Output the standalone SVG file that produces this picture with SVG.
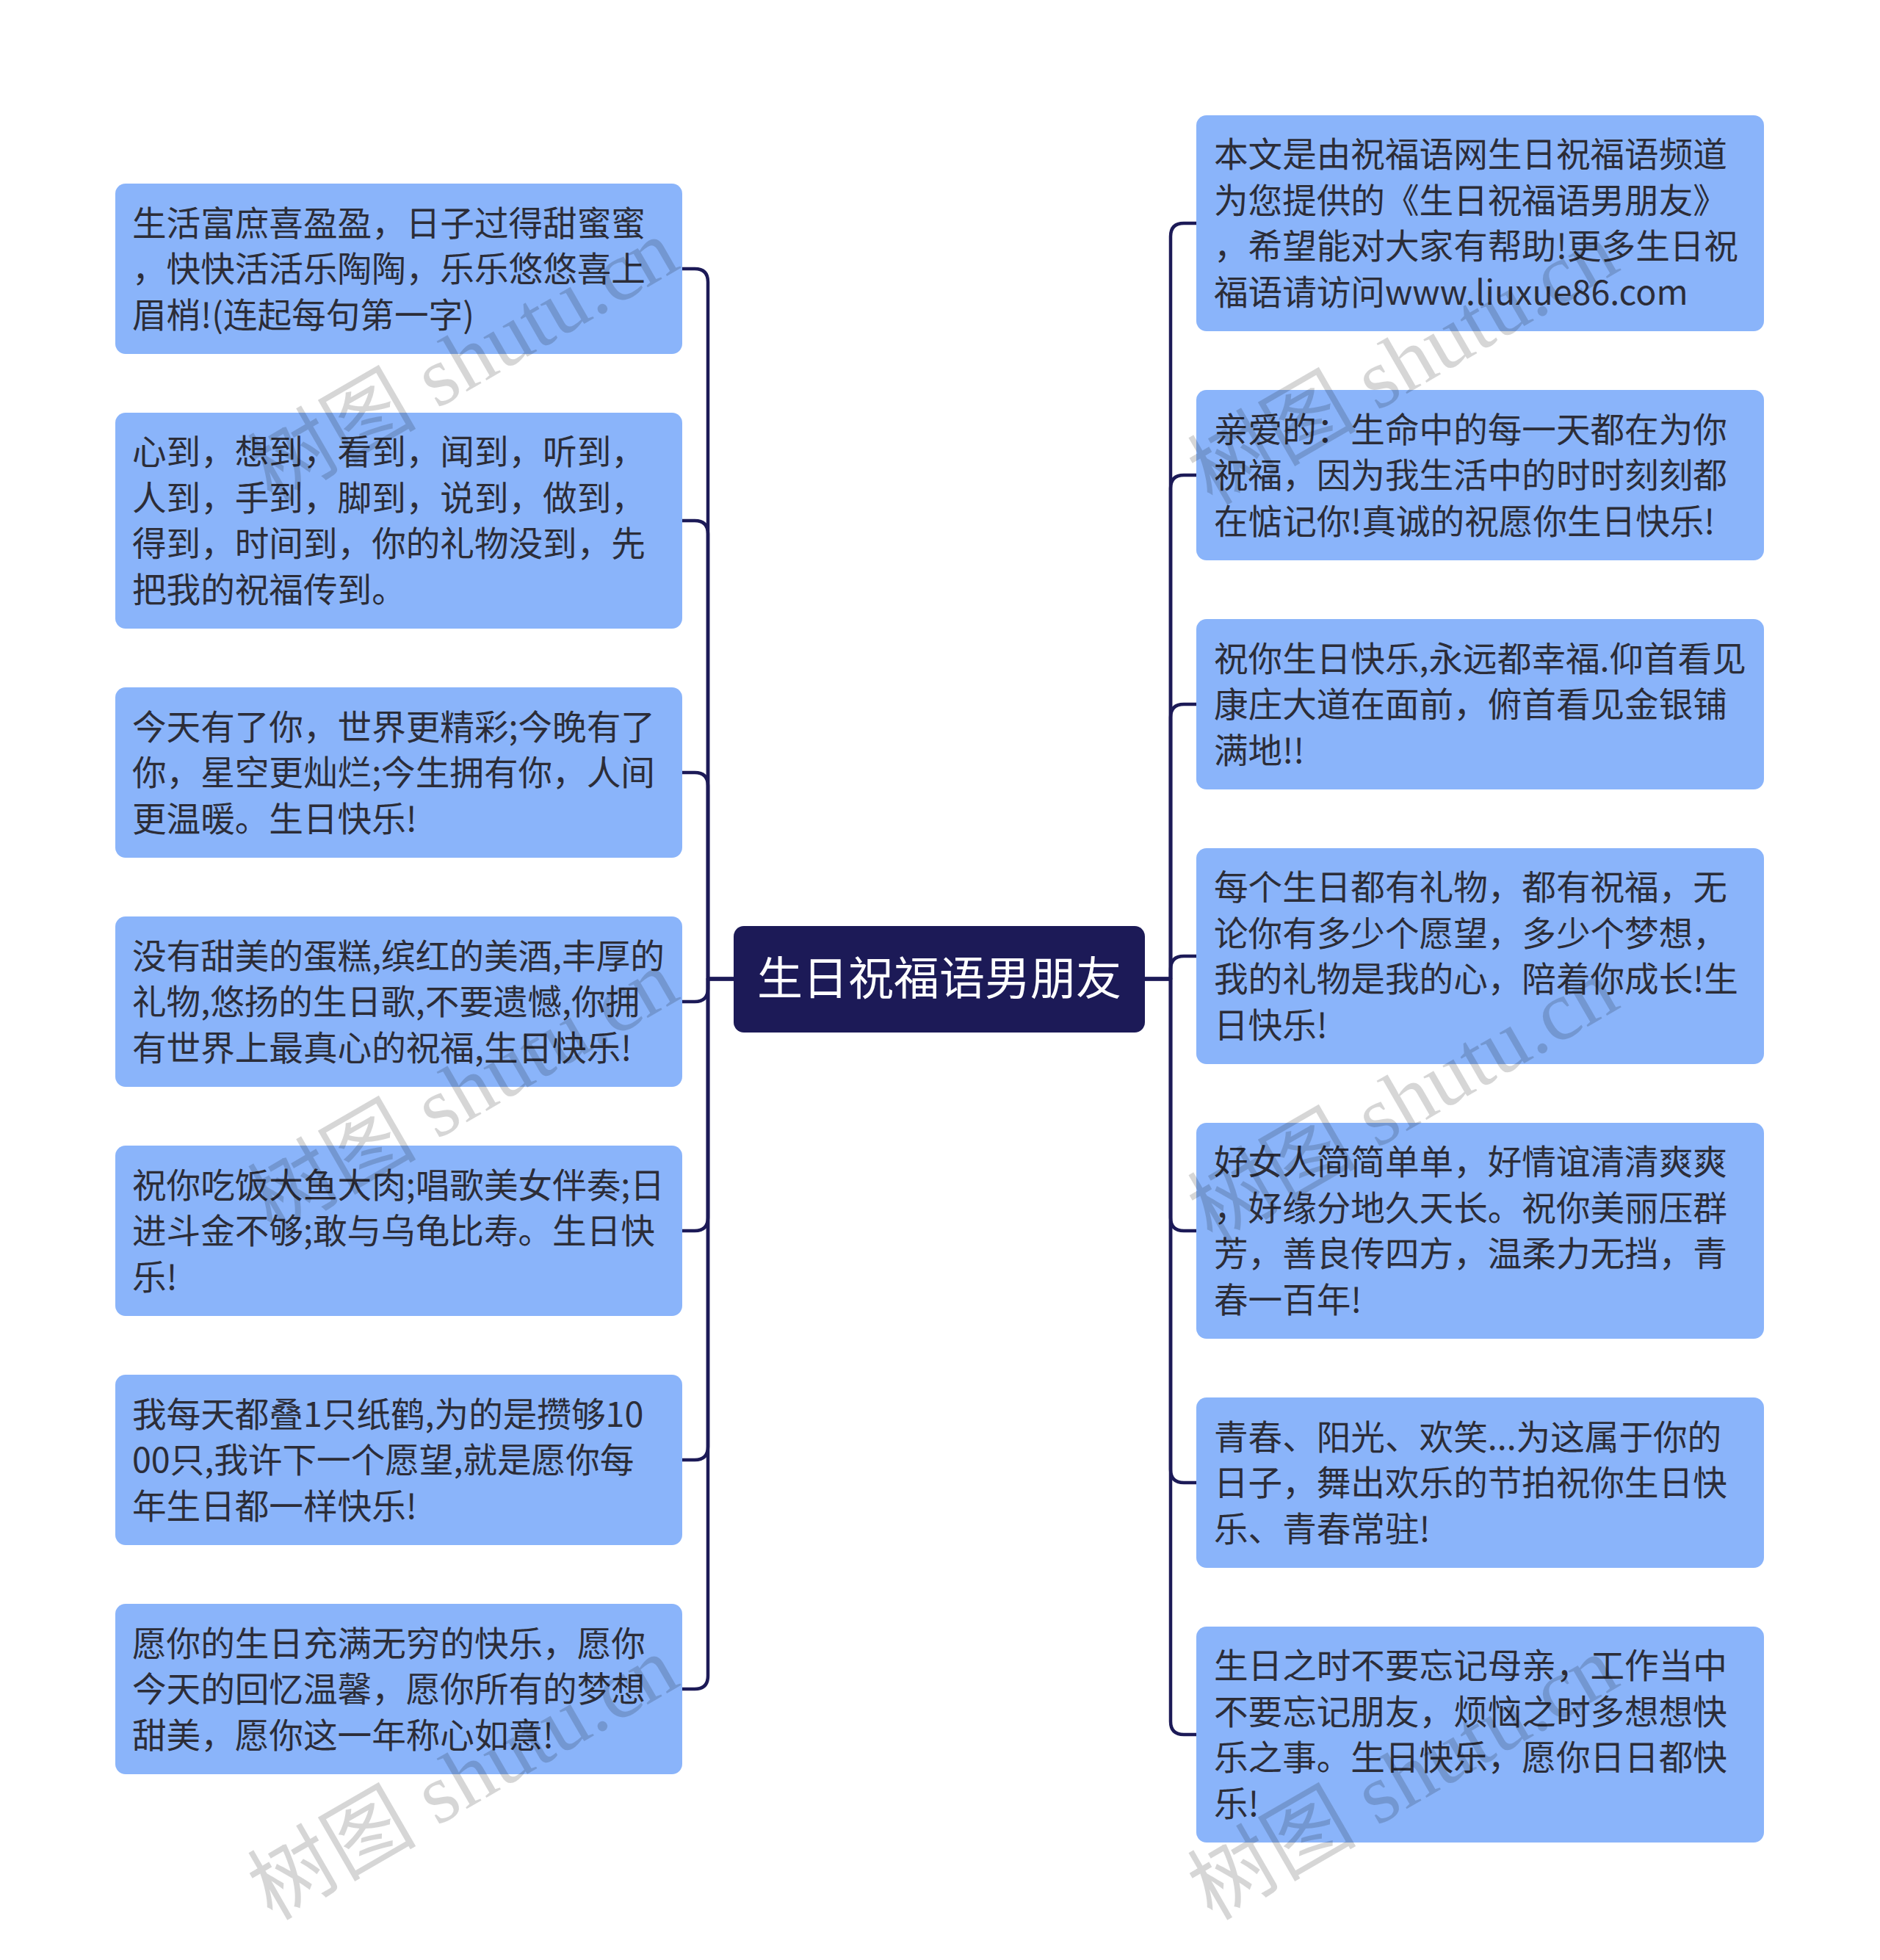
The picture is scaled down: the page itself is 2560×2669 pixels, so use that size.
<svg xmlns="http://www.w3.org/2000/svg" width="2560" height="2669" viewBox="0 0 2560 2669">
<style>
.box{fill:#8ab4fa;}
.root{fill:#1c1a57;}
.t{font-family:"Noto Sans CJK SC","Noto Sans",sans-serif;font-size:46.6px;fill:#2c2d38;}
.rt{font-family:"Noto Sans CJK SC","Noto Sans",sans-serif;font-size:62px;fill:#ffffff;text-anchor:middle;}
.c{fill:none;stroke:#1c1a57;stroke-width:4.5;stroke-linejoin:round;}
.wm{font-family:"Liberation Serif","Noto Sans CJK SC",serif;font-size:115px;fill:#000;fill-opacity:0.16;text-anchor:middle;}
</style>
<rect width="2560" height="2669" fill="#ffffff"/>
<g id="connectors">
<path class="c" d="M999 1333H964V384Q964 366 946 366H929"/>
<path class="c" d="M999 1333H964V727Q964 709 946 709H929"/>
<path class="c" d="M999 1333H964V1070Q964 1052 946 1052H929"/>
<path class="c" d="M999 1333H964V1346Q964 1364 946 1364H929"/>
<path class="c" d="M999 1333H964V1658Q964 1676 946 1676H929"/>
<path class="c" d="M999 1333H964V1970Q964 1988 946 1988H929"/>
<path class="c" d="M999 1333H964V2282Q964 2300 946 2300H929"/>
<path class="c" d="M1559 1333H1594V322Q1594 304 1612 304H1629"/>
<path class="c" d="M1559 1333H1594V665Q1594 647 1612 647H1629"/>
<path class="c" d="M1559 1333H1594V977Q1594 959 1612 959H1629"/>
<path class="c" d="M1559 1333H1594V1320Q1594 1302 1612 1302H1629"/>
<path class="c" d="M1559 1333H1594V1658Q1594 1676 1612 1676H1629"/>
<path class="c" d="M1559 1333H1594V2001Q1594 2019 1612 2019H1629"/>
<path class="c" d="M1559 1333H1594V2344Q1594 2362 1612 2362H1629"/>
</g>
<g id="root">
<rect class="root" x="999" y="1261" width="560" height="145" rx="14"/>
<text class="rt" x="1279" y="1355">生日祝福语男朋友</text>
</g>
<g id="L1">
<rect class="box" x="157" y="250" width="772" height="232" rx="14"/>
<text class="t"><tspan x="180" y="320.5">生活富庶喜盈盈，日子过得甜蜜蜜</tspan><tspan x="180" y="383">，快快活活乐陶陶，乐乐悠悠喜上</tspan><tspan x="180" y="445.5">眉梢!(连起每句第一字)</tspan></text>
</g>
<g id="L2">
<rect class="box" x="157" y="562" width="772" height="294" rx="14"/>
<text class="t"><tspan x="180" y="632.25">心到，想到，看到，闻到，听到，</tspan><tspan x="180" y="694.75">人到，手到，脚到，说到，做到，</tspan><tspan x="180" y="757.25">得到，时间到，你的礼物没到，先</tspan><tspan x="180" y="819.75">把我的祝福传到。</tspan></text>
</g>
<g id="L3">
<rect class="box" x="157" y="936" width="772" height="232" rx="14"/>
<text class="t"><tspan x="180" y="1006.5">今天有了你，世界更精彩;今晚有了</tspan><tspan x="180" y="1069">你，星空更灿烂;今生拥有你，人间</tspan><tspan x="180" y="1131.5">更温暖。生日快乐!</tspan></text>
</g>
<g id="L4">
<rect class="box" x="157" y="1248" width="772" height="232" rx="14"/>
<text class="t"><tspan x="180" y="1318.5">没有甜美的蛋糕,缤红的美酒,丰厚的</tspan><tspan x="180" y="1381">礼物,悠扬的生日歌,不要遗憾,你拥</tspan><tspan x="180" y="1443.5">有世界上最真心的祝福,生日快乐!</tspan></text>
</g>
<g id="L5">
<rect class="box" x="157" y="1560" width="772" height="232" rx="14"/>
<text class="t"><tspan x="180" y="1630.5">祝你吃饭大鱼大肉;唱歌美女伴奏;日</tspan><tspan x="180" y="1693">进斗金不够;敢与乌龟比寿。生日快</tspan><tspan x="180" y="1755.5">乐!</tspan></text>
</g>
<g id="L6">
<rect class="box" x="157" y="1872" width="772" height="232" rx="14"/>
<text class="t"><tspan x="180" y="1942.5">我每天都叠1只纸鹤,为的是攒够10</tspan><tspan x="180" y="2005">00只,我许下一个愿望,就是愿你每</tspan><tspan x="180" y="2067.5">年生日都一样快乐!</tspan></text>
</g>
<g id="L7">
<rect class="box" x="157" y="2184" width="772" height="232" rx="14"/>
<text class="t"><tspan x="180" y="2254.5">愿你的生日充满无穷的快乐，愿你</tspan><tspan x="180" y="2317">今天的回忆温馨，愿你所有的梦想</tspan><tspan x="180" y="2379.5">甜美，愿你这一年称心如意!</tspan></text>
</g>
<g id="R1">
<rect class="box" x="1629" y="157" width="773" height="294" rx="14"/>
<text class="t"><tspan x="1653" y="227.25">本文是由祝福语网生日祝福语频道</tspan><tspan x="1653" y="289.75">为您提供的《生日祝福语男朋友》</tspan><tspan x="1653" y="352.25">，希望能对大家有帮助!更多生日祝</tspan><tspan x="1653" y="414.75">福语请访问www.liuxue86.com</tspan></text>
</g>
<g id="R2">
<rect class="box" x="1629" y="531" width="773" height="232" rx="14"/>
<text class="t"><tspan x="1653" y="601.5">亲爱的：生命中的每一天都在为你</tspan><tspan x="1653" y="664">祝福，因为我生活中的时时刻刻都</tspan><tspan x="1653" y="726.5">在惦记你!真诚的祝愿你生日快乐!</tspan></text>
</g>
<g id="R3">
<rect class="box" x="1629" y="843" width="773" height="232" rx="14"/>
<text class="t"><tspan x="1653" y="913.5">祝你生日快乐,永远都幸福.仰首看见</tspan><tspan x="1653" y="976">康庄大道在面前，俯首看见金银铺</tspan><tspan x="1653" y="1038.5">满地!!</tspan></text>
</g>
<g id="R4">
<rect class="box" x="1629" y="1155" width="773" height="294" rx="14"/>
<text class="t"><tspan x="1653" y="1225.25">每个生日都有礼物，都有祝福，无</tspan><tspan x="1653" y="1287.75">论你有多少个愿望，多少个梦想，</tspan><tspan x="1653" y="1350.25">我的礼物是我的心，陪着你成长!生</tspan><tspan x="1653" y="1412.75">日快乐!</tspan></text>
</g>
<g id="R5">
<rect class="box" x="1629" y="1529" width="773" height="294" rx="14"/>
<text class="t"><tspan x="1653" y="1599.25">好女人简简单单，好情谊清清爽爽</tspan><tspan x="1653" y="1661.75">，好缘分地久天长。祝你美丽压群</tspan><tspan x="1653" y="1724.25">芳，善良传四方，温柔力无挡，青</tspan><tspan x="1653" y="1786.75">春一百年!</tspan></text>
</g>
<g id="R6">
<rect class="box" x="1629" y="1903" width="773" height="232" rx="14"/>
<text class="t"><tspan x="1653" y="1973.5">青春、阳光、欢笑...为这属于你的</tspan><tspan x="1653" y="2036">日子，舞出欢乐的节拍祝你生日快</tspan><tspan x="1653" y="2098.5">乐、青春常驻!</tspan></text>
</g>
<g id="R7">
<rect class="box" x="1629" y="2215" width="773" height="294" rx="14"/>
<text class="t"><tspan x="1653" y="2285.25">生日之时不要忘记母亲，工作当中</tspan><tspan x="1653" y="2347.75">不要忘记朋友，烦恼之时多想想快</tspan><tspan x="1653" y="2410.25">乐之事。生日快乐，愿你日日都快</tspan><tspan x="1653" y="2472.75">乐!</tspan></text>
</g>
<g id="watermarks">
<text class="wm" transform="translate(650 525) rotate(-30)">树图 shutu.cn</text>
<text class="wm" transform="translate(650 1520) rotate(-30)">树图 shutu.cn</text>
<text class="wm" transform="translate(650 2455) rotate(-30)">树图 shutu.cn</text>
<text class="wm" transform="translate(1930 528) rotate(-30)">树图 shutu.cn</text>
<text class="wm" transform="translate(1930 1532) rotate(-30)">树图 shutu.cn</text>
<text class="wm" transform="translate(1930 2455) rotate(-30)">树图 shutu.cn</text>
</g>
</svg>
